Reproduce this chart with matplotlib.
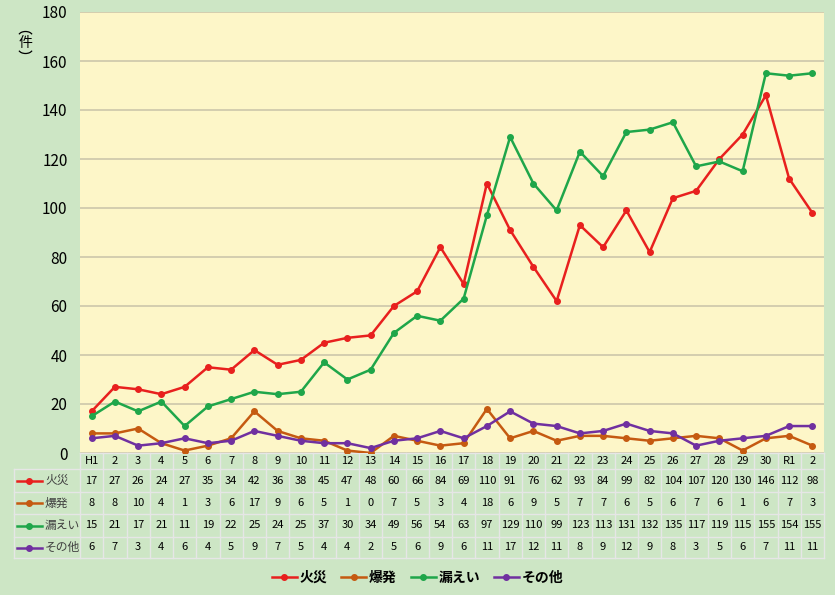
import numpy as np
import matplotlib
matplotlib.use("Agg")
from matplotlib import pyplot as plt
from matplotlib.lines import Line2D
from matplotlib.patches import Arc

plt.rcParams['font.family'] = ['Noto Sans CJK JP', 'DejaVu Sans']

years = ['H1', '2', '3', '4', '5', '6', '7', '8', '9', '10', '11', '12', '13', '14', '15', '16', '17',
         '18', '19', '20', '21', '22', '23', '24', '25', '26', '27', '28', '29', '30', 'R1', '2']
fire = [17, 27, 26, 24, 27, 35, 34, 42, 36, 38, 45, 47, 48, 60, 66, 84, 69,
        110, 91, 76, 62, 93, 84, 99, 82, 104, 107, 120, 130, 146, 112, 98]
explosion = [8, 8, 10, 4, 1, 3, 6, 17, 9, 6, 5, 1, 0, 7, 5, 3, 4,
             18, 6, 9, 5, 7, 7, 6, 5, 6, 7, 6, 1, 6, 7, 3]
leak = [15, 21, 17, 21, 11, 19, 22, 25, 24, 25, 37, 30, 34, 49, 56, 54, 63,
        97, 129, 110, 99, 123, 113, 131, 132, 135, 117, 119, 115, 155, 154, 155]
other = [6, 7, 3, 4, 6, 4, 5, 9, 7, 5, 4, 4, 2, 5, 6, 9, 6,
         11, 17, 12, 11, 8, 9, 12, 9, 8, 3, 5, 6, 7, 11, 11]

names = ['火災', '爆発', '漏えい', 'その他']
colors = ['#e8201e', '#c55a11', '#1fa64a', '#7030a0']
series = [fire, explosion, leak, other]

W, H = 835.0, 595.0
bg = '#cde6c5'
fig = plt.figure(figsize=(8.35, 5.95), dpi=100, facecolor=bg)
ax = fig.add_axes([80/W, 1-453/H, 744/W, 441/H])
ax.set_facecolor('#fdf6c8')

x = np.arange(len(years))
for s, c, n in zip(series, colors, names):
    ax.plot(x, s, color=c, lw=1.8, marker='o', ms=4, label=n, zorder=3)

ax.set_xlim(-0.5, len(years)-0.5)
ax.set_ylim(0, 180)
ax.set_yticks(np.arange(0, 181, 20))
ax.tick_params(axis='y', length=0, labelsize=11, pad=9)
ax.set_xticks([])
ax.grid(axis='y', color='#c8c2a8', lw=1.1)
ax.set_axisbelow(True)
for sp in ax.spines.values():
    sp.set_visible(False)

# vertical "(件)" unit label: arcs for the parentheses
fig.text(25.5/W, 1-42.5/H, '件', ha='center', va='center', fontsize=10)
fig.add_artist(Arc((25.5/W, 1-36/H), 14/W, 9/H, theta1=20, theta2=160,
                   transform=fig.transFigure, color='black', lw=0.9))
fig.add_artist(Arc((25.5/W, 1-49/H), 14/W, 9/H, theta1=200, theta2=340,
                   transform=fig.transFigure, color='black', lw=0.9))

# table below the plot
fh = 441.0
row_edges = [0, -16, -39, -61, -84, -105]  # px below axis bottom
col_w = 744.0 / len(years)
left = -0.5 - 66.0 / col_w
def ay(px):
    return px / fh
tr = ax.get_xaxis_transform()
lc = '#e6e6e6'
ax.plot([-0.5, len(years)-0.5], [ay(row_edges[0])]*2, transform=tr, color=lc, lw=1, clip_on=False)
for e in row_edges[1:]:
    ax.plot([left, len(years)-0.5], [ay(e)]*2, transform=tr, color=lc, lw=1, clip_on=False)
for i in range(len(years)+1):
    ax.plot([i-0.5]*2, [ay(row_edges[0]), ay(row_edges[-1])], transform=tr, color=lc, lw=1, clip_on=False)
ax.plot([left]*2, [ay(row_edges[1]), ay(row_edges[-1])], transform=tr, color=lc, lw=1, clip_on=False)

for i, yl in enumerate(years):
    ax.text(i, ay((row_edges[0]+row_edges[1])/2), yl, transform=tr, ha='center', va='center', fontsize=8)
for r, (s, c, n) in enumerate(zip(series, colors, names)):
    yc = ay((row_edges[r+1]+row_edges[r+2])/2)
    for i, v in enumerate(s):
        ax.text(i, yc, str(v), transform=tr, ha='center', va='center', fontsize=8)
    k0 = left + 3.0 / col_w
    k1 = left + 28.0 / col_w
    ax.add_line(Line2D([k0, k1], [yc, yc], transform=tr, color=c, lw=1.8, clip_on=False))
    ax.add_line(Line2D([(k0+k1)/2], [yc], transform=tr, color=c, marker='o', ms=4, clip_on=False))
    ax.text(left + 31.0 / col_w, yc, n, transform=tr, ha='left', va='center', fontsize=8.5, color='#404040')

leg = fig.legend(loc='center', bbox_to_anchor=(0.5, 1-578/H), ncol=4, frameon=False,
                 prop={'size': 10, 'weight': 'bold'}, handlelength=1.8, columnspacing=1.0,
                 handletextpad=0.2)

fig.savefig('out.png', dpi=100, facecolor=bg)
